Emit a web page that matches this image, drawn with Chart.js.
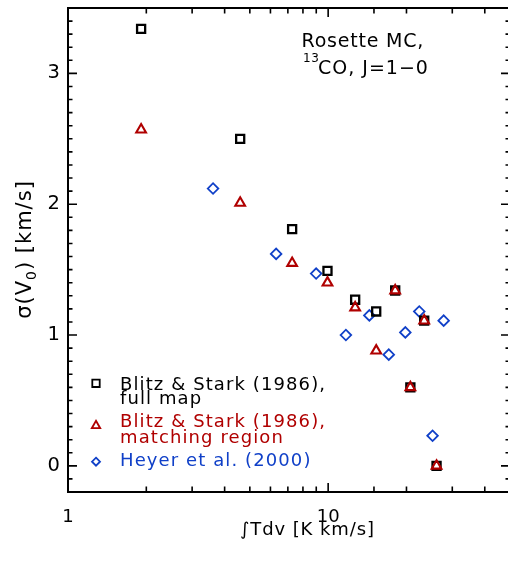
<!DOCTYPE html>
<html>
<head>
<meta charset="utf-8">
<script src="https://cdn.jsdelivr.net/npm/chart.js@4.4.1/dist/chart.umd.min.js"></script>
<style>
  html, body { margin: 0; padding: 0; background: #fff; overflow: hidden; }
</style>
</head>
<body>
<canvas id="grafico" width="512" height="562"></canvas>
<script>
// Blitz & Stark (1986), full map
const fullMapX = [1.91, 4.59, 7.27, 9.94, 12.7, 15.3, 18.1, 23.4, 20.7, 26.1];
const fullMapY = [3.34, 2.50, 1.81, 1.49, 1.27, 1.18, 1.34, 1.11, 0.60, 0.00];
// Blitz & Stark (1986), matching region
const matchX = [1.91, 4.59, 7.27, 9.94, 12.7, 15.3, 18.1, 23.4, 20.7, 26.1];
const matchY = [2.57, 2.01, 1.55, 1.40, 1.21, 0.88, 1.34, 1.11, 0.60, 0.00];
// Heyer et al. (2000)
const heyerX = [3.61, 6.31, 8.99, 11.7, 14.4, 17.1, 19.8, 22.4, 25.2, 27.8];
const heyerY = [2.12, 1.62, 1.47, 1.00, 1.15, 0.85, 1.02, 1.18, 0.23, 1.11];

const xLabels = [1, 10];
const yLabels = [0, 1, 2, 3];
const legendLabels = [
  ["Blitz & Stark (1986),", "full map"],
  ["Blitz & Stark (1986),", "matching region"],
  ["Heyer et al. (2000)"]
];

const RED = "#b00000";
const BLUE = "#1040c8";
const FONT = '"DejaVu Sans"';
const PLOT_RIGHT = 509.7; // right axis sits just past the picture edge

Chart.defaults.font.family = "DejaVu Sans";

function pts(xs, ys) {
  return xs.map((x, i) => ({ x: x, y: ys[i] }));
}
function isWhole(v) {
  return Math.abs(v - Math.round(v)) < 1e-6;
}
function txt(ctx, s, x, y, size, color, spacing) {
  ctx.font = size + "px " + FONT;
  ctx.letterSpacing = spacing + "px";
  ctx.fillStyle = color;
  ctx.fillText(s, x, y);
  return ctx.measureText(s).width;
}

const framePlugin = {
  id: "frame",
  afterDraw(chart) {
    const { ctx, chartArea: a, scales: { x, y } } = chart;
    ctx.save();
    ctx.strokeStyle = "#000";
    ctx.lineWidth = 2;
    ctx.strokeRect(a.left, a.top, a.right - a.left, a.bottom - a.top);

    // ticks pointing inward, on all four sides
    ctx.lineWidth = 1.6;
    ctx.beginPath();
    y.ticks.forEach(t => {
      const py = y.getPixelForValue(t.value);
      const len = isWhole(t.value) ? 9 : 4.5;
      ctx.moveTo(a.left, py); ctx.lineTo(a.left + len, py);
      ctx.moveTo(a.right, py); ctx.lineTo(a.right - len, py);
    });
    x.ticks.forEach(t => {
      const px = x.getPixelForValue(t.value);
      const len = xLabels.includes(t.value) ? 9 : 5.5;
      ctx.moveTo(px, a.bottom); ctx.lineTo(px, a.bottom - len);
      ctx.moveTo(px, a.top); ctx.lineTo(px, a.top + len);
    });
    ctx.stroke();

    // legend
    const colors = ["#000", RED, BLUE];
    const rows = [[383.3, 390, 404.3], [425, 427.3, 442.7], [461.7, 466]];
    ctx.lineWidth = 1.8;
    rows.forEach((r, i) => {
      const cy = r[0];
      ctx.strokeStyle = colors[i];
      ctx.beginPath();
      if (i === 0) {
        ctx.rect(96 - 3.7, cy - 3.7, 7.4, 7.4);
      } else if (i === 1) {
        ctx.moveTo(96, cy - 4.2); ctx.lineTo(100.2, cy + 3.2); ctx.lineTo(91.8, cy + 3.2); ctx.closePath();
      } else {
        ctx.moveTo(96, cy - 4); ctx.lineTo(100, cy); ctx.lineTo(96, cy + 4); ctx.lineTo(92, cy); ctx.closePath();
      }
      ctx.stroke();
      legendLabels[i].forEach((line, j) => {
        txt(ctx, line, 120, r[1 + j], 18, colors[i], 1.1);
      });
    });

    // annotation
    txt(ctx, "Rosette MC,", 301.5, 46.5, 19, "#000", 0.8);
    txt(ctx, "13", 303, 61.5, 12, "#000", 0.5);
    txt(ctx, "CO, J=1\u22120", 318, 74, 19, "#000", 1);

    // x title
    txt(ctx, "\u222BTdv [K km/s]", 240, 534.5, 18, "#000", 0.9);

    // y title, rotated
    ctx.translate(31, 249.5);
    ctx.rotate(-Math.PI / 2);
    ctx.font = "21px " + FONT;
    ctx.letterSpacing = "1px";
    const w1 = ctx.measureText("\u03C3(V").width;
    const w3 = ctx.measureText(") [km/s]").width;
    ctx.font = "14px " + FONT;
    const w2 = ctx.measureText("0").width;
    let sx = -(w1 + w2 + w3) / 2;
    txt(ctx, "\u03C3(V", sx, 0, 21, "#000", 1);
    txt(ctx, "0", sx + w1, 5, 14, "#000", 1);
    txt(ctx, ") [km/s]", sx + w1 + w2, 0, 21, "#000", 1);
    ctx.restore();
  }
};

function makeChart() {
  const ctx = document.getElementById("grafico").getContext("2d");
  return new Chart(ctx, {
    type: "scatter",
    data: {
      datasets: [
        {
          label: "Blitz & Stark (1986), matching region",
          data: pts(matchX, matchY),
          pointStyle: "triangle",
          pointRadius: 5.6,
          borderWidth: 2.1,
          borderColor: RED,
          backgroundColor: "transparent",
          order: 0
        },
        {
          label: "Blitz & Stark (1986), full map",
          data: pts(fullMapX, fullMapY),
          pointStyle: "rect",
          pointRadius: 5.7,
          borderWidth: 2.3,
          borderColor: "#000",
          backgroundColor: "transparent",
          order: 1
        },
        {
          label: "Heyer et al. (2000)",
          data: pts(heyerX, heyerY),
          pointStyle: "rectRot",
          pointRadius: 5.3,
          borderWidth: 1.8,
          borderColor: BLUE,
          backgroundColor: "transparent",
          order: 2
        }
      ]
    },
    options: {
      responsive: false,
      maintainAspectRatio: false,
      animation: false,
      events: [],
      layout: { padding: { left: 0, right: 0, top: 7, bottom: 0 } },
      plugins: { legend: { display: false }, tooltip: { enabled: false } },
      scales: {
        x: {
          type: "logarithmic",
          min: 1,
          max: 50,
          grid: { display: false, drawTicks: false },
          border: { display: false },
          afterFit: s => { s.height = 70; s.paddingLeft = 0; s.paddingRight = 0; },
          ticks: {
            autoSkip: false,
            maxRotation: 0,
            padding: 15,
            color: "#000",
            font: { size: 18 },
            callback: v => (xLabels.includes(v) ? String(v) : "")
          }
        },
        y: {
          min: -0.2,
          max: 3.5,
          grid: { display: false, drawTicks: false },
          border: { display: false },
          afterFit: s => { s.width = 68; s.paddingTop = 0; s.paddingBottom = 0; },
          ticks: {
            stepSize: 0.1,
            autoSkip: false,
            padding: 8,
            color: "#000",
            font: { size: 19.5 },
            callback: v => (isWhole(v) && yLabels.includes(Math.round(v)) ? String(Math.round(v)) : "")
          }
        }
      }
    },
    plugins: [framePlugin]
  });
}

let chart = makeChart();
const diff = PLOT_RIGHT - chart.chartArea.right;
if (Math.abs(diff) > 0.3) {
  const canvas = document.getElementById("grafico");
  const w = Math.round(canvas.width + diff);
  chart.destroy();
  canvas.width = w;
  canvas.height = 562;
  canvas.style.width = w + "px";
  canvas.style.height = "562px";
  chart = makeChart();
}
</script>
</body>
</html>
